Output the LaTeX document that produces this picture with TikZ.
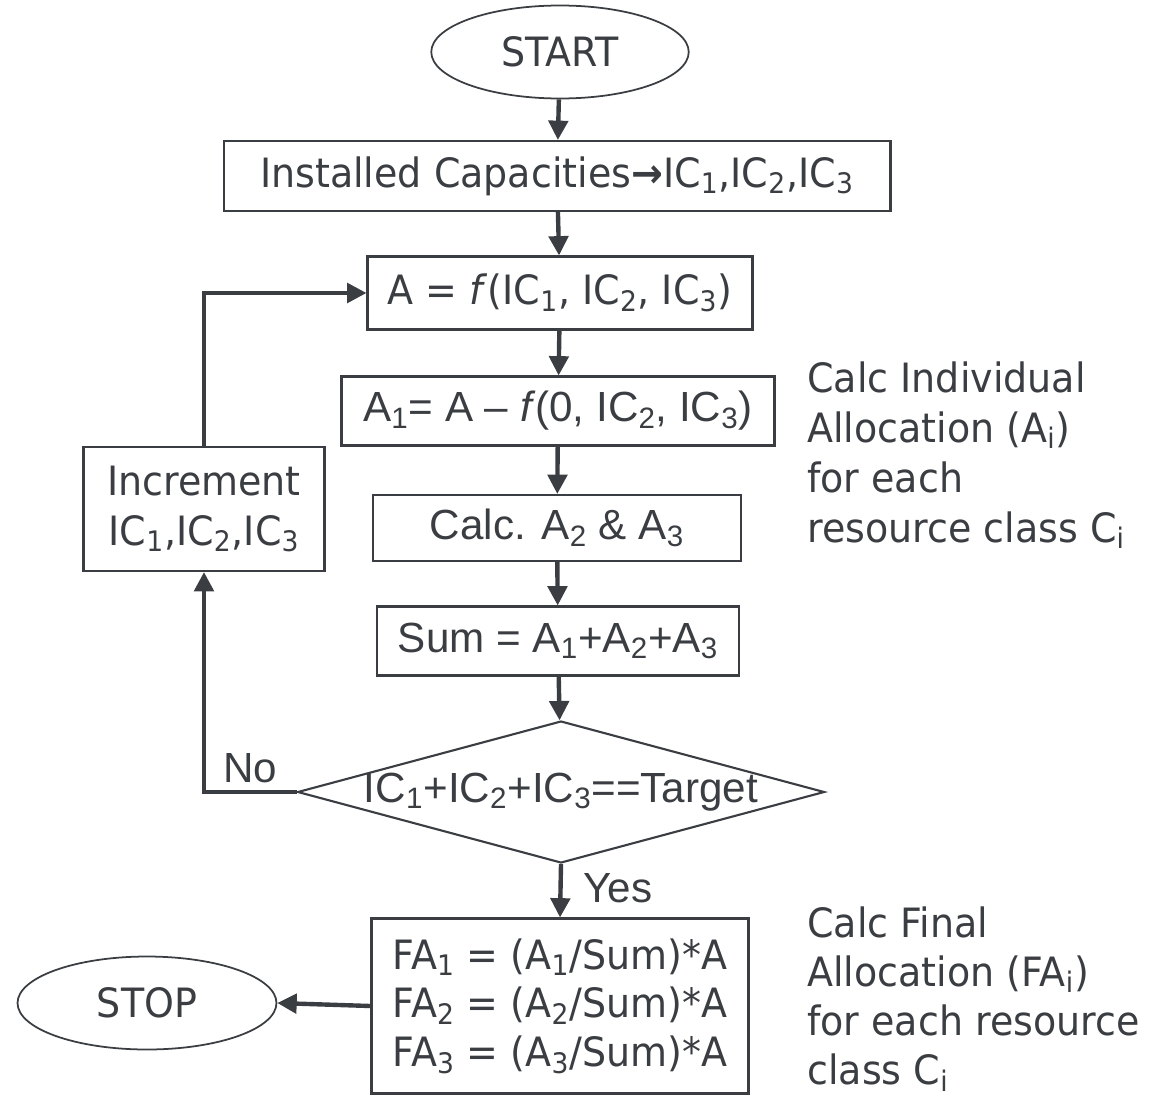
\documentclass[tikz,border=0pt]{standalone}
\usepackage{fontspec}
\setmainfont[FakeStretch=0.94]{DejaVu Sans}
\newfontfamily\arialfont{Liberation Sans}
\usepackage{tikz}
\usetikzlibrary{shapes.geometric, arrows.meta, positioning}
\definecolor{ink}{HTML}{3A3D41}
\tikzstyle{line} = [draw=ink, line width=2.5pt, -{Triangle[length=11pt,width=11pt]}]

\begin{document}
\begin{tikzpicture}[x=0.02cm, y=-0.02cm, every node/.style={font=\fontsize{23}{28.5}\selectfont, text=ink}]
  % Define styles
  \tikzstyle{startstop} = [ellipse, draw=ink, line width=1pt, minimum width=5.15cm, minimum height=1.86cm, inner sep=0pt]
  \tikzstyle{process} = [rectangle, draw=ink, line width=1.2pt, text centered, inner sep=0pt]
  \tikzstyle{decision} = [diamond, draw=ink, line width=1.2pt, minimum width=10.54cm, minimum height=2.84cm, inner sep=0pt]
  \tikzstyle{arial} = [font=\arialfont\fontsize{24}{29}\selectfont]
  \tikzstyle{note} = [align=left, inner sep=0pt, anchor=north west]

  \useasboundingbox (0,0) rectangle (1152,1102);

  % Place nodes
  \node [startstop] (start) at (560,52) {START};
  \node [process, minimum width=13.34cm, minimum height=1.4cm] (capacity) at (557,176) {Installed Capacities\textbf{→}IC\textsubscript{1},IC\textsubscript{2},IC\textsubscript{3}};
  \node [process, minimum width=7.7cm, minimum height=1.46cm] (alloc) at (560,293) {A = \textit{f}(IC\textsubscript{1}, IC\textsubscript{2}, IC\textsubscript{3})};
  \node [process, arial, minimum width=8.66cm, minimum height=1.38cm] (firstA) at (558,411) {A\textsubscript{1}= A – \textit{f}(0, IC\textsubscript{2}, IC\textsubscript{3})};
  \node [process, arial, minimum width=7.36cm, minimum height=1.32cm] (otherA) at (557,528) {Calc. A\textsubscript{2} \& A\textsubscript{3}};
  \node [process, arial, minimum width=7.24cm, minimum height=1.38cm] (sumA) at (558,641) {Sum = A\textsubscript{1}+A\textsubscript{2}+A\textsubscript{3}};
  \node [decision, arial] (target) at (561,792) {\makebox[0pt]{\raisebox{-3pt}{IC\textsubscript{1}+IC\textsubscript{2}+IC\textsubscript{3}==Target}}};
  \node [process, align=center, minimum width=4.82cm, minimum height=2.48cm] (increment) at (204,509) {Increment\\IC\textsubscript{1},IC\textsubscript{2},IC\textsubscript{3}};
  \node [process, align=left, font=\fontsize{23}{27.8}\selectfont, minimum width=7.54cm, minimum height=3.5cm] (finalA) at (560,1006) {FA\textsubscript{1} = (A\textsubscript{1}/Sum)*A\\FA\textsubscript{2} = (A\textsubscript{2}/Sum)*A\\FA\textsubscript{3} = (A\textsubscript{3}/Sum)*A};
  \node [startstop, minimum width=5.18cm] (stop) at (147,1003) {STOP};

  % Side notes
  \node [note] (indivNote) at (807,361) {Calc Individual\\Allocation (A\textsubscript{i})\\for each\\resource class C\textsubscript{i}};
  \node [note, font=\fontsize{23}{28}\selectfont] (finalNote) at (807,906) {Calc Final\\Allocation (FA\textsubscript{i})\\for each resource\\class C\textsubscript{i}};

  % Draw edges
  \path [line] (start) -- (capacity);
  \path [line] (capacity) -- (alloc);
  \path [line] (alloc) -- (firstA);
  \path [line] (firstA) -- (otherA);
  \path [line] (otherA) -- (sumA);
  \path [line] (sumA) -- (target);
  \path [line] (target.south) -- node [arial, right=0.3cm, pos=0.45] {Yes} (finalA.north);
  \path [line] (target.west) -| node [arial, above, pos=0.25, inner sep=4pt] {No} (increment.south);
  \path [line] (increment.north) |- (alloc.west);
  \path [line] (finalA.west) -- (stop.east);

\end{tikzpicture}
\end{document}
